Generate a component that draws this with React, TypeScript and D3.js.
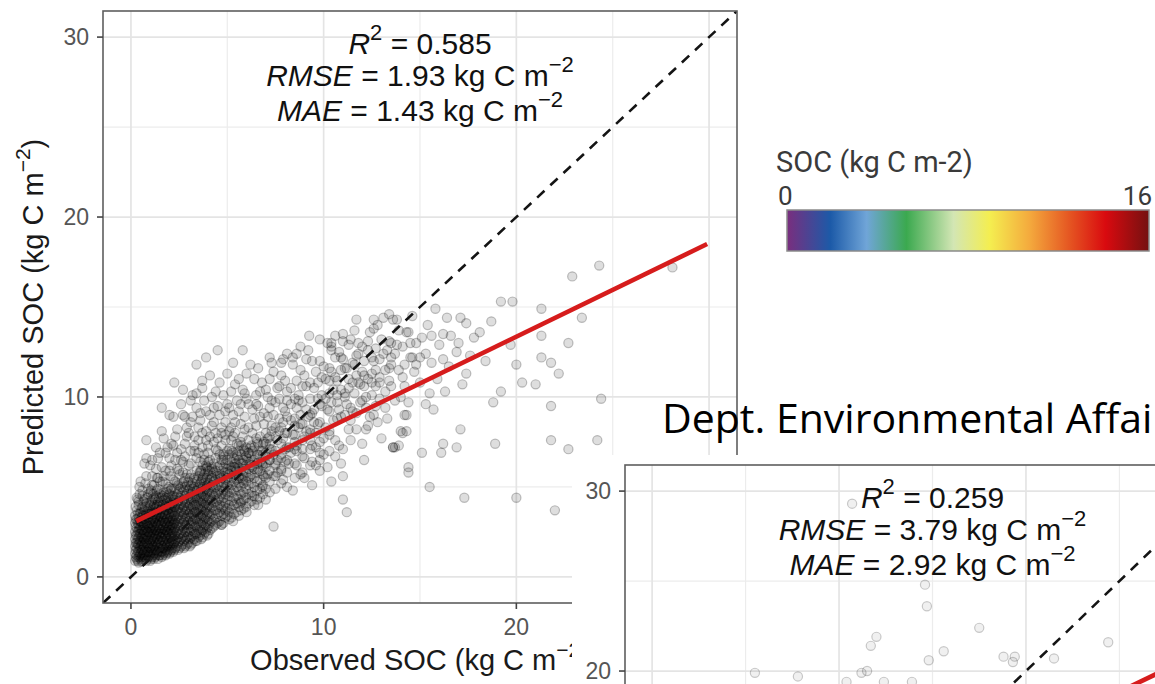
import React from 'react';
import * as d3 from 'd3';

// ---------- data ----------
const axisDomain: [number, number] = [-1.45, 31.45];
const majorTicks = [0, 10, 20, 30];
const minorTicks = [5, 15, 25];

const panel1Stats = ['0.585', '1.93', '1.43'];
const panel2Stats = ['0.259', '3.79', '2.92'];

// fitted regression line end points [observed, predicted]
const panel1Fit: [number, number][] = [[0.28, 3.1], [29.9, 18.5]];
const panel2Fit: [number, number][] = [[0.3, 6.5], [30.5, 21.6]];

// dense core of the main panel: [observed, predicted values at that observed]
const coreColumns: [number, number[]][] = [
  [0.22, [0.9, 1.3, 1.7, 2.1, 2.5, 3.0, 3.4]],
  [0.3, [1.0, 1.2, 1.6, 1.9, 2.3, 2.7, 3.2, 3.7]],
  [0.4, [0.8, 1.1, 1.4, 1.8, 2.2, 2.6, 2.9, 3.3, 4.0]],
  [0.5, [1.0, 1.3, 1.7, 2.0, 2.4, 2.8, 3.1, 3.6]],
  [0.6, [0.9, 1.2, 1.5, 1.9, 2.3, 2.6, 3.0, 3.4, 3.9, 4.5]],
  [0.7, [1.1, 1.4, 1.8, 2.1, 2.5, 2.9, 3.2, 3.7]],
  [0.8, [0.9, 1.2, 1.6, 2.0, 2.3, 2.7, 3.1, 3.5, 4.1]],
  [0.9, [1.1, 1.4, 1.7, 2.1, 2.5, 2.8, 3.3, 3.8, 4.6]],
  [1.0, [0.9, 1.3, 1.6, 2.0, 2.4, 2.7, 3.0, 3.5, 4.0]],
  [1.1, [1.1, 1.5, 1.8, 2.2, 2.6, 2.9, 3.3, 3.7, 4.3, 5.1]],
  [1.2, [1.0, 1.3, 1.7, 2.1, 2.4, 2.8, 3.2, 3.6, 4.0]],
  [1.3, [1.2, 1.5, 1.9, 2.3, 2.6, 3.0, 3.4, 3.9, 4.5]],
  [1.4, [1.0, 1.4, 1.8, 2.1, 2.5, 2.9, 3.3, 3.7, 4.2, 4.9]],
  [1.5, [1.2, 1.6, 2.0, 2.4, 2.7, 3.1, 3.5, 4.0]],
  [1.6, [1.1, 1.4, 1.7, 2.2, 2.6, 3.0, 3.3, 3.8, 4.4]],
  [1.7, [1.3, 1.6, 2.0, 2.4, 2.8, 3.2, 3.6, 4.1, 4.7]],
  [1.8, [1.2, 1.5, 1.9, 2.3, 2.6, 3.0, 3.5, 3.9, 4.4, 5.2]],
  [1.9, [1.4, 1.8, 2.1, 2.5, 2.9, 3.3, 3.7, 4.2]],
  [2.0, [1.3, 1.7, 2.0, 2.4, 2.8, 3.1, 3.5, 4.0, 4.6]],
  [2.1, [1.5, 1.9, 2.2, 2.6, 3.0, 3.4, 3.8, 4.3, 4.9]],
  [2.2, [1.4, 1.8, 2.1, 2.5, 2.9, 3.2, 3.6, 4.1, 4.5, 5.4]],
  [2.3, [1.6, 2.0, 2.3, 2.7, 3.1, 3.5, 3.9, 4.4]],
  [2.45, [1.5, 1.9, 2.2, 2.6, 3.0, 3.4, 3.8, 4.2, 4.7, 5.1]],
  [2.6, [1.7, 2.1, 2.4, 2.8, 3.2, 3.6, 4.0, 4.5, 5.0]],
  [2.75, [1.6, 2.0, 2.3, 2.7, 3.1, 3.5, 3.9, 4.3, 4.8, 5.3]],
  [2.9, [1.8, 2.2, 2.5, 2.9, 3.3, 3.7, 4.1, 4.6, 5.1]],
  [3.05, [1.7, 2.1, 2.5, 2.9, 3.3, 3.6, 4.0, 4.4, 4.9, 5.5]],
  [3.2, [1.9, 2.3, 2.7, 3.1, 3.5, 3.9, 4.3, 4.7, 5.2]],
  [3.35, [2.0, 2.4, 2.8, 3.2, 3.6, 4.0, 4.4, 4.8, 5.4]],
  [3.5, [2.2, 2.6, 3.0, 3.4, 3.8, 4.2, 4.6, 5.0, 5.6]],
  [3.65, [2.1, 2.5, 2.9, 3.3, 3.7, 4.1, 4.5, 4.9, 5.3, 5.9]],
  [3.8, [2.4, 2.8, 3.2, 3.6, 4.0, 4.4, 4.8, 5.2, 5.7]],
  [3.95, [2.3, 2.7, 3.1, 3.5, 3.9, 4.3, 4.7, 5.1, 5.5, 6.1]],
  [4.1, [2.6, 3.0, 3.4, 3.8, 4.2, 4.6, 5.0, 5.4, 5.9]],
  [4.3, [2.8, 3.2, 3.7, 4.1, 4.5, 4.9, 5.3, 5.8, 6.3]],
  [4.5, [3.0, 3.5, 3.9, 4.3, 4.7, 5.1, 5.6, 6.1]],
  [4.7, [2.9, 3.4, 3.8, 4.2, 4.6, 5.0, 5.5, 5.9, 6.5]],
  [4.9, [3.3, 3.7, 4.1, 4.6, 5.0, 5.4, 5.8, 6.3]],
  [5.1, [3.2, 3.6, 4.0, 4.5, 4.9, 5.3, 5.7, 6.2, 6.8]],
  [5.35, [3.5, 4.0, 4.4, 4.8, 5.3, 5.7, 6.1, 6.6]],
  [5.6, [3.4, 3.9, 4.3, 4.8, 5.2, 5.6, 6.1, 6.5, 7.0]],
  [5.85, [3.8, 4.3, 4.7, 5.2, 5.6, 6.0, 6.5, 7.1]],
  [6.1, [4.1, 4.6, 5.1, 5.5, 6.0, 6.4, 6.9]],
  [6.4, [4.0, 4.5, 5.0, 5.5, 6.0, 6.5, 7.2]],
  [6.7, [4.4, 4.9, 5.4, 5.9, 6.4, 7.0]],
  [7.0, [4.3, 4.9, 5.5, 6.1, 6.7, 7.4]],
  [7.5, [4.9, 5.6, 6.3, 7.0, 7.8]],
  [7.8, [5.2, 5.9, 6.6, 7.4, 8.3]],
  [8.1, [5.0, 5.8, 6.5, 7.2, 8.0]],
  [8.5, [5.5, 6.3, 7.1, 7.9, 8.8]],
  [8.9, [5.8, 6.7, 7.6, 8.5]],
  [9.3, [6.2, 7.1, 8.0, 9.0]],
  [9.8, [6.5, 7.5, 8.6, 9.6]],
  [10.3, [7.0, 8.1, 9.2]],
];

// second layer of the dense core, read between the first layer's columns
const coreColumnsB: [number, number[]][] = [
  [0.25, [1.1, 1.5, 1.9, 2.3, 2.8, 3.2, 3.9]],
  [0.35, [0.9, 1.4, 1.8, 2.1, 2.5, 3.0, 3.5, 4.3]],
  [0.45, [1.2, 1.6, 2.0, 2.4, 2.7, 3.1, 3.5, 4.6]],
  [0.55, [0.85, 1.1, 1.5, 1.8, 2.2, 2.6, 3.0, 3.3, 3.8]],
  [0.65, [1.0, 1.3, 1.7, 2.1, 2.4, 2.8, 3.2, 3.6, 4.2]],
  [0.75, [1.2, 1.5, 1.9, 2.2, 2.6, 3.0, 3.4, 3.9, 5.2]],
  [0.85, [1.0, 1.4, 1.8, 2.2, 2.5, 2.9, 3.3, 3.7, 4.4]],
  [0.95, [1.2, 1.6, 1.9, 2.3, 2.7, 3.0, 3.5, 4.1]],
  [1.05, [1.0, 1.4, 1.7, 2.1, 2.5, 2.8, 3.2, 3.6, 4.2, 4.8]],
  [1.15, [1.2, 1.6, 2.0, 2.3, 2.7, 3.1, 3.5, 3.9, 4.6]],
  [1.25, [1.1, 1.5, 1.8, 2.2, 2.6, 3.0, 3.3, 3.8, 4.3]],
  [1.35, [1.3, 1.7, 2.1, 2.4, 2.8, 3.2, 3.6, 4.0, 4.8, 5.5]],
  [1.45, [1.2, 1.6, 1.9, 2.3, 2.7, 3.1, 3.4, 3.9, 4.4]],
  [1.55, [1.4, 1.8, 2.2, 2.5, 2.9, 3.3, 3.7, 4.2, 4.7]],
  [1.65, [1.2, 1.6, 2.0, 2.4, 2.7, 3.1, 3.5, 4.0, 4.5, 5.3]],
  [1.75, [1.4, 1.8, 2.2, 2.6, 3.0, 3.4, 3.8, 4.3]],
  [1.85, [1.3, 1.7, 2.1, 2.5, 2.8, 3.2, 3.7, 4.1, 4.7]],
  [1.95, [1.5, 1.9, 2.3, 2.7, 3.1, 3.5, 3.9, 4.4, 5.0]],
  [2.05, [1.4, 1.8, 2.2, 2.6, 2.9, 3.3, 3.8, 4.2, 4.8, 5.6]],
  [2.15, [1.6, 2.0, 2.4, 2.8, 3.2, 3.6, 4.0, 4.5]],
  [2.25, [1.5, 1.9, 2.3, 2.7, 3.0, 3.4, 3.9, 4.3, 4.9]],
  [2.38, [1.7, 2.1, 2.5, 2.9, 3.3, 3.7, 4.1, 4.6, 5.2]],
  [2.52, [1.6, 2.0, 2.4, 2.8, 3.2, 3.6, 4.0, 4.4, 4.9, 5.7]],
  [2.68, [1.8, 2.2, 2.6, 3.0, 3.4, 3.8, 4.2, 4.7, 5.2]],
  [2.82, [1.7, 2.1, 2.5, 2.9, 3.3, 3.7, 4.1, 4.5, 5.0, 5.5]],
  [2.98, [1.9, 2.3, 2.7, 3.1, 3.5, 3.9, 4.3, 4.8, 5.3]],
  [3.12, [1.8, 2.2, 2.6, 3.0, 3.4, 3.8, 4.2, 4.6, 5.1, 5.7]],
  [3.28, [2.1, 2.5, 2.9, 3.3, 3.7, 4.1, 4.5, 5.0, 5.5]],
  [3.42, [2.0, 2.4, 2.8, 3.2, 3.6, 4.0, 4.4, 4.8, 5.3, 5.9]],
  [3.58, [2.3, 2.7, 3.1, 3.5, 3.9, 4.3, 4.7, 5.2, 5.8]],
  [3.72, [2.2, 2.6, 3.0, 3.4, 3.8, 4.2, 4.6, 5.0, 5.5, 6.2]],
  [3.88, [2.5, 2.9, 3.3, 3.7, 4.1, 4.5, 4.9, 5.4, 6.0]],
  [4.02, [2.4, 2.8, 3.2, 3.6, 4.0, 4.4, 4.8, 5.2, 5.7, 6.4]],
  [4.2, [2.7, 3.1, 3.5, 3.9, 4.3, 4.7, 5.1, 5.6, 6.1]],
  [4.4, [2.9, 3.3, 3.7, 4.2, 4.6, 5.0, 5.4, 5.9, 6.6]],
  [4.6, [3.1, 3.6, 4.0, 4.4, 4.8, 5.3, 5.7, 6.2]],
  [4.8, [3.0, 3.5, 3.9, 4.4, 4.8, 5.2, 5.6, 6.1, 6.7]],
  [5.0, [3.4, 3.8, 4.3, 4.7, 5.1, 5.5, 6.0, 6.5]],
  [5.22, [3.3, 3.8, 4.2, 4.7, 5.1, 5.5, 5.9, 6.4, 7.0]],
  [5.48, [3.6, 4.1, 4.5, 5.0, 5.4, 5.9, 6.3, 6.8]],
  [5.72, [3.7, 4.2, 4.6, 5.0, 5.5, 5.9, 6.3, 6.8, 7.3]],
  [5.98, [3.9, 4.4, 4.9, 5.3, 5.8, 6.2, 6.7, 7.2]],
  [6.25, [4.2, 4.7, 5.2, 5.7, 6.2, 6.7, 7.3]],
  [6.55, [4.3, 4.8, 5.3, 5.8, 6.3, 6.8, 7.5]],
  [6.85, [4.6, 5.1, 5.7, 6.2, 6.8, 7.4]],
  [7.2, [4.7, 5.3, 5.9, 6.5, 7.1, 7.8]],
];

// medium-density cloud of the main panel [observed, predicted]
const cloudSamples: [number, number][] = [
  [0.6, 4.8], [0.8, 5.6], [1.0, 6.2], [1.2, 5.1], [1.4, 6.6], [0.9, 4.9], [1.3, 7.2], [0.5, 5.3],
  [1.6, 6.1], [1.8, 6.9], [2.1, 7.4], [2.3, 6.5], [1.7, 7.7], [2.4, 8.2], [2.0, 5.9], [2.6, 7.1], [1.5, 5.3], [2.2, 8.9],
  [2.7, 6.4], [2.9, 7.8], [3.1, 8.6], [3.3, 7.0], [2.8, 8.9], [3.4, 9.4], [3.0, 6.2], [3.2, 10.1], [2.6, 9.6], [3.5, 7.6], [3.4, 6.6],
  [3.7, 7.2], [3.9, 8.1], [4.1, 9.0], [4.3, 7.5], [3.8, 9.8], [4.4, 10.3], [4.0, 6.9], [4.2, 8.4], [3.6, 8.7], [4.5, 9.5], [4.1, 11.2], [3.7, 10.5],
  [4.7, 7.3], [4.9, 8.6], [5.1, 9.4], [5.3, 7.8], [4.8, 10.1], [5.4, 10.7], [5.0, 7.0], [5.2, 8.3], [4.6, 9.0], [5.5, 9.8], [5.0, 11.3], [4.7, 2.9], [5.3, 3.1],
  [5.7, 7.5], [5.9, 8.9], [6.1, 9.6], [6.3, 8.0], [5.8, 10.4], [6.4, 11.0], [6.0, 6.6], [6.2, 7.2], [5.6, 9.2], [6.5, 10.1], [6.2, 11.8], [5.7, 4.1], [6.3, 4.5], [6.0, 3.6],
  [6.7, 7.8], [6.9, 9.1], [7.1, 10.0], [7.3, 8.4], [6.8, 10.8], [7.4, 11.4], [7.0, 6.9], [7.2, 7.4], [6.6, 9.5], [7.5, 9.7], [7.2, 12.2], [6.8, 5.0], [7.1, 5.7], [6.6, 4.0],
  [7.7, 8.1], [7.9, 9.4], [8.1, 10.3], [8.3, 8.7], [7.8, 11.2], [8.4, 11.8], [8.0, 7.1], [8.2, 6.3], [7.6, 10.5], [8.5, 9.9], [8.1, 12.4], [7.9, 5.4], [8.4, 4.8],
  [8.7, 8.3], [8.9, 9.7], [9.1, 10.6], [9.3, 7.6], [8.8, 11.5], [9.4, 12.0], [9.0, 6.6], [9.2, 8.9], [8.6, 10.9], [9.5, 9.3], [8.8, 5.7], [9.4, 5.1], [8.6, 7.3],
  [9.7, 8.5], [9.9, 10.1], [10.1, 11.0], [10.3, 7.9], [9.8, 12.0], [10.4, 12.6], [10.0, 6.8], [10.2, 9.3], [9.6, 11.4], [10.5, 10.4], [10.2, 13.0], [9.8, 5.9],
  [10.7, 8.8], [10.9, 10.4], [11.1, 11.6], [11.3, 8.2], [10.8, 12.5], [11.4, 13.2], [11.0, 7.1], [11.2, 9.6], [10.6, 11.1], [11.5, 10.8], [10.9, 6.3],
  [11.7, 9.1], [11.9, 10.7], [12.1, 12.0], [12.3, 8.4], [11.8, 13.0], [12.4, 13.6], [12.0, 7.4], [12.2, 10.0], [11.6, 11.8], [12.5, 11.3], [12.1, 6.5],
  [12.7, 9.5], [12.9, 11.1], [13.1, 12.4], [13.3, 8.8], [12.8, 14.0], [13.4, 13.1], [13.0, 7.7], [13.2, 10.3], [12.6, 12.0], [13.5, 11.8],
  [13.7, 9.8], [13.9, 11.5], [14.1, 12.8], [14.3, 9.0], [13.8, 14.3], [14.4, 13.6], [14.0, 8.1], [14.2, 10.6], [13.6, 7.2], [14.5, 12.2],
  [6.3, 6.1], [6.8, 7.0], [7.2, 6.5], [7.6, 7.6], [8.0, 8.0], [8.5, 7.5], [6.5, 8.4], [7.0, 8.0], [7.8, 6.8], [8.3, 6.9],
  [9.0, 7.8], [6.1, 6.9], [5.5, 6.7], [5.8, 7.8], [6.6, 6.0], [7.3, 7.1], [7.7, 8.8], [8.8, 8.5], [9.6, 7.2], [9.3, 8.2],
  [5.2, 6.1], [4.8, 6.5], [5.6, 5.5], [6.9, 5.6], [7.5, 6.2], [4.4, 7.1], [4.9, 7.6], [5.4, 8.0], [3.8, 6.8], [4.2, 6.0],
  [10.6, 12.2], [10.9, 11.5], [11.3, 12.9], [11.6, 10.2], [12.0, 11.4], [12.3, 12.6], [12.7, 10.6], [13.0, 13.2], [12.2, 9.4], [11.1, 10.0],
  [11.8, 12.4], [12.6, 13.8], [10.8, 9.3], [13.2, 11.5], [12.9, 9.9], [11.4, 8.7], [10.3, 10.9], [12.4, 8.9], [13.7, 12.4], [14.0, 10.0],
];

// further grey points of the cloud [observed, predicted]
const cloudSamplesB: [number, number][] = [
  [1.1, 5.6], [1.3, 6.0], [1.5, 6.9], [1.8, 5.9], [2.0, 6.6], [2.2, 7.3], [2.4, 6.0], [2.6, 6.5], [2.8, 7.4], [1.4, 5.5],
  [1.9, 7.2], [2.3, 7.8], [2.9, 8.3], [1.6, 8.1], [2.7, 9.0],
  [3.1, 7.0], [3.3, 7.8], [3.5, 6.9], [3.7, 8.0], [3.9, 9.2], [4.1, 7.8], [4.3, 8.6], [4.5, 7.0], [4.7, 8.0], [4.9, 9.2],
  [3.2, 8.9], [3.8, 6.5], [4.2, 10.0], [4.6, 10.8], [3.4, 10.2], [4.8, 6.8], [3.6, 5.9], [4.0, 5.9],
  [5.1, 8.1], [5.3, 9.0], [5.5, 7.4], [5.7, 9.6], [5.9, 10.2], [6.1, 8.3], [6.3, 9.3], [6.5, 7.7], [6.7, 10.3], [6.9, 7.5],
  [5.2, 10.3], [5.6, 11.0], [6.0, 11.3], [6.6, 11.6], [5.4, 6.1], [6.2, 6.4], [6.8, 6.3], [5.8, 6.3],
  [7.1, 8.9], [7.3, 9.8], [7.5, 8.3], [7.7, 10.6], [7.9, 8.6], [8.1, 9.8], [8.3, 10.5], [8.5, 8.4], [8.7, 9.8], [8.9, 10.6],
  [7.2, 11.0], [7.8, 11.9], [8.4, 12.2], [8.8, 12.8], [7.4, 6.8], [8.0, 6.4], [8.6, 7.0], [7.6, 5.8],
  [9.1, 9.3], [9.3, 10.8], [9.5, 8.6], [9.7, 9.9], [9.9, 11.1], [10.1, 9.9], [10.3, 11.6], [10.5, 8.7], [10.7, 10.1], [10.9, 12.2],
  [9.2, 12.6], [9.8, 13.2], [10.6, 13.4], [9.4, 7.3], [10.0, 7.7], [10.8, 7.3], [9.6, 6.2],
  [11.1, 9.0], [11.3, 10.5], [11.5, 11.9], [11.7, 11.2], [11.9, 9.7], [12.1, 11.2], [12.3, 13.1], [12.5, 10.1], [12.7, 12.7], [12.9, 12.1],
  [11.4, 7.6], [12.2, 8.2], [12.8, 8.6], [11.6, 13.7], [12.6, 14.3],
  [13.2, 9.4], [13.5, 10.6], [13.8, 12.9], [14.1, 11.1], [14.4, 9.7], [14.7, 11.4], [15.0, 12.2], [15.3, 9.6], [15.6, 13.4], [15.9, 11.0],
  [13.4, 14.6], [14.6, 14.5], [16.2, 12.1],
];

// inner, darker part of the cloud [observed, predicted]
const midCloudSamples: [number, number][] = [
  [2.5, 5.9], [2.8, 6.7], [3.1, 6.3], [3.3, 7.3], [3.6, 6.4], [3.9, 7.6], [4.1, 6.5], [4.4, 8.0], [4.6, 6.8], [4.9, 7.9],
  [5.1, 7.1], [5.4, 8.6], [5.6, 7.3], [5.9, 8.2], [6.1, 7.6], [6.4, 8.8], [6.6, 7.4], [6.9, 8.5], [7.1, 7.7], [7.4, 9.0],
  [7.6, 6.5], [7.9, 7.7], [8.1, 8.9], [8.4, 7.9], [8.6, 9.4], [8.9, 7.1], [9.1, 8.1], [9.4, 9.1], [9.6, 8.0], [9.9, 9.5],
  [10.1, 8.3], [10.4, 9.7], [10.6, 7.6], [10.9, 8.9], [11.1, 10.2], [11.4, 9.4], [11.7, 8.2], [12.0, 9.8], [12.3, 11.0], [12.6, 9.0],
  [3.0, 8.0], [3.6, 9.1], [4.0, 7.3], [4.3, 9.4], [4.7, 8.3], [5.0, 9.6], [5.3, 6.9], [5.7, 8.5], [6.0, 9.9], [6.3, 7.0],
  [6.7, 8.9], [7.0, 10.4], [7.3, 8.1], [7.7, 9.9], [8.0, 10.9], [8.3, 9.6], [8.7, 10.1], [9.0, 11.2], [9.3, 9.9], [9.7, 10.8],
  [10.0, 11.7], [10.3, 10.2], [10.7, 10.9], [11.0, 12.1], [11.3, 11.0], [11.7, 12.3], [12.1, 10.6], [12.5, 12.2], [12.9, 10.8], [13.3, 12.6],
  [3.2, 4.9], [3.7, 5.4], [4.2, 5.5], [4.6, 5.6], [5.0, 5.8], [5.4, 6.3], [5.8, 5.4], [6.2, 5.6], [6.6, 6.8], [7.0, 6.3],
  [7.4, 5.6], [7.8, 6.0], [8.2, 7.2], [8.6, 6.2], [9.0, 5.5], [9.4, 6.4], [9.8, 6.9], [10.2, 6.1], [10.6, 6.7], [11.0, 5.6],
  [2.4, 6.9], [2.9, 5.7], [3.5, 8.3], [3.9, 6.2], [4.5, 7.7], [5.2, 7.6], [5.9, 7.0], [6.5, 9.6], [7.2, 9.4], [8.0, 9.2],
  [8.8, 9.0], [9.5, 10.5], [10.4, 11.4], [11.2, 11.6], [12.0, 12.8], [12.7, 11.5], [13.5, 13.0], [14.2, 11.8], [14.8, 13.0], [15.3, 12.4],
  [15.0, 10.8], [15.6, 11.9], [16.0, 12.9], [16.5, 11.7], [16.9, 12.5], [15.4, 14.0], [16.2, 13.5], [17.0, 13.0], [17.6, 12.3], [18.1, 13.6],
  [1.2, 4.4], [1.5, 4.6], [1.9, 4.9], [2.3, 5.3], [2.7, 5.8], [0.7, 4.3], [1.0, 4.7], [0.4, 4.2], [1.7, 5.6], [2.1, 6.2],
];

// sparse points of the main panel [observed, predicted]
const outlierSamples: [number, number][] = [
  [0.8, 6.6], [0.7, 6.3], [1.1, 6.5], [0.44, 5.0], [0.3, 4.4], [0.8, 7.6], [1.6, 9.4], [2.0, 9.0], [2.25, 10.8], [2.7, 10.4],
  [3.1, 9.8], [3.4, 11.8], [3.9, 12.2], [3.7, 10.9], [4.5, 12.6], [5.8, 12.6], [5.3, 11.9], [7.3, 11.9], [7.9, 12.1], [8.6, 12.4],
  [9.1, 12.1], [9.25, 13.4], [10.4, 13.0], [11.0, 13.5],
  [24.3, 17.3], [22.9, 16.7], [28.1, 17.2], [19.2, 15.3], [19.8, 15.3], [21.3, 14.9], [23.4, 14.4], [22.7, 13.0], [18.7, 14.2],
  [21.3, 13.4], [24.4, 9.9], [21.8, 9.5], [21.8, 7.6], [24.2, 7.6], [22.7, 7.1], [21.3, 12.2], [21.8, 11.9], [22.2, 11.3],
  [20.0, 11.8], [20.3, 10.8], [21.0, 10.7], [19.2, 10.3], [18.8, 9.7], [18.9, 7.4], [17.1, 8.2], [16.9, 7.2], [16.2, 7.4],
  [15.1, 6.9], [15.7, 9.3], [14.4, 6.1], [17.8, 13.3], [16.4, 14.4], [17.1, 14.4], [17.4, 14.1], [15.8, 14.9], [16.6, 13.4],
  [18.4, 12.0], [19.7, 12.9], [16.3, 10.3], [17.2, 10.7], [17.4, 11.3], [15.5, 10.2], [14.2, 9.0], [14.3, 8.1], [13.9, 7.3],
  [13.6, 7.2], [13.5, 12.2], [13.4, 11.6], [14.6, 12.2], [14.8, 11.8], [14.5, 13.0], [13.1, 14.4], [13.6, 14.3], [11.7, 14.3],
  [14.3, 13.6], [13.9, 13.7], [15.1, 13.3], [13.4, 10.9], [11.8, 10.8], [12.5, 10.8], [11.5, 9.2], [10.7, 9.7], [11.0, 13.1],
  [10.4, 12.8], [22.0, 3.7], [20.0, 4.4], [17.3, 4.4], [15.5, 5.0], [14.4, 5.8], [16.1, 6.9], [14.1, 8.0], [13.7, 7.2],
  [11.2, 3.6], [11.0, 4.3], [10.4, 5.3], [7.4, 2.8],
];

// visible points of the second (overlaid) panel [observed, predicted]
const panel2Samples: [number, number][] = [
  [14.6, 24.8], [14.7, 23.6], [17.5, 22.4], [15.6, 21.1], [14.8, 20.6], [18.8, 20.8], [19.4, 20.8], [19.3, 20.5],
  [21.5, 20.7], [24.4, 21.6], [13.9, 19.4], [10.7, 29.3], [12.0, 21.9], [11.7, 21.4], [5.5, 19.9], [7.8, 19.7],
  [11.2, 19.9], [11.5, 20.0], [10.4, 19.4], [12.4, 19.4],
];

const colorbarRange = [0, 16];
const colorbarTitle = 'SOC (kg C m-2)';
const colorbarStops: [number, string][] = [
  [0, '#7a2e7e'], [0.12, '#1c5aa8'], [0.22, '#70a5d8'], [0.33, '#3ba94f'], [0.46, '#d3e6b4'],
  [0.56, '#f4ee50'], [0.67, '#f4aa3d'], [0.78, '#e55622'], [0.88, '#d90a0f'], [1, '#741111'],
];
const overlayTitle = 'Dept. Environmental Affairs';

// ---------- drawing ----------
const FONT = "'Liberation Sans', Arial, Helvetica, sans-serif";

type PanelProps = {
  left: number; top: number; width: number; height: number;
  points: [number, number][]; fit: [number, number][]; stats: string[];
  clipId: string; fill: string; stroke: string;
};

function Panel({ left, top, width, height, points, fit, stats, clipId, fill, stroke }: PanelProps) {
  const x = d3.scaleLinear().domain(axisDomain).range([left, left + width]);
  const y = d3.scaleLinear().domain(axisDomain).range([top + height, top]);
  const line = d3.line<[number, number]>().x(d => x(d[0])).y(d => y(d[1]));
  const cx = left + width / 2;
  const bottom = top + height;
  const gridMinor = '#ececec';
  const gridMajor = '#e4e4e4';
  return (
    <g>
      <defs>
        <clipPath id={clipId}>
          <rect x={left} y={top} width={width} height={height} />
        </clipPath>
      </defs>
      <rect x={left} y={top} width={width} height={height} fill="#fff" />
      <g clipPath={`url(#${clipId})`}>
        {minorTicks.map(v => (
          <g key={'mi' + v}>
            <line x1={x(v)} x2={x(v)} y1={top} y2={bottom} stroke={gridMinor} strokeWidth={1.2} />
            <line x1={left} x2={left + width} y1={y(v)} y2={y(v)} stroke={gridMinor} strokeWidth={1.2} />
          </g>
        ))}
        {majorTicks.map(v => (
          <g key={'ma' + v}>
            <line x1={x(v)} x2={x(v)} y1={top} y2={bottom} stroke={gridMajor} strokeWidth={1.7} />
            <line x1={left} x2={left + width} y1={y(v)} y2={y(v)} stroke={gridMajor} strokeWidth={1.7} />
          </g>
        ))}
        {points.map((p, i) => (
          <circle key={i} cx={x(p[0])} cy={y(p[1])} r={4.6} fill={fill} stroke={stroke} strokeWidth={1.2} />
        ))}
        <path d={line([[axisDomain[0], axisDomain[0]], [axisDomain[1], axisDomain[1]]]) || ''}
          stroke="#141414" strokeWidth={2.6} strokeDasharray="10 8" fill="none" />
        <path d={line(fit) || ''} stroke="#d61c1c" strokeWidth={4.6} fill="none" />
      </g>
      <rect x={left} y={top} width={width} height={height} fill="none" stroke="#5e5e5e" strokeWidth={1.6} />
      {majorTicks.map(v => (
        <g key={'yt' + v}>
          <line x1={left - 6} x2={left} y1={y(v)} y2={y(v)} stroke="#444" strokeWidth={1.6} />
          <text x={left - 14} y={y(v)} dy="0.36em" textAnchor="end" fontFamily={FONT} fontSize={23} fill="#555">{v}</text>
        </g>
      ))}
      {majorTicks.map(v => (
        <g key={'xt' + v}>
          <line x1={x(v)} x2={x(v)} y1={bottom} y2={bottom + 6} stroke="#444" strokeWidth={1.6} />
          <text x={x(v)} y={bottom + 32} textAnchor="middle" fontFamily={FONT} fontSize={23} fill="#555">{v}</text>
        </g>
      ))}
      <g fontFamily={FONT} fontSize={30} fill="#111" textAnchor="middle" style={{ whiteSpace: 'pre' }}>
        <text x={cx} y={top + 43}>
          <tspan fontStyle="italic">R</tspan>
          <tspan fontSize={22} dy={-14}>2</tspan>
          <tspan dy={14}>{' = ' + stats[0]}</tspan>
        </text>
        <text x={cx} y={top + 75}>
          <tspan fontStyle="italic">RMSE</tspan>
          <tspan>{' = ' + stats[1] + ' kg C m'}</tspan>
          <tspan fontSize={22} dy={-14}>−2</tspan>
        </text>
        <text x={cx} y={top + 110}>
          <tspan fontStyle="italic">MAE</tspan>
          <tspan>{' = ' + stats[2] + ' kg C m'}</tspan>
          <tspan fontSize={22} dy={-14}>−2</tspan>
        </text>
      </g>
    </g>
  );
}

export default function App() {
  const W = 1155, H = 684;
  const mainPoints: [number, number][] = [
    ...coreColumns.flatMap(([o, ps]) => ps.map(p => [o, p] as [number, number])),
    ...coreColumnsB.flatMap(([o, ps]) => ps.map(p => [o, p] as [number, number])),
    ...midCloudSamples,
    ...cloudSamples,
    ...cloudSamplesB,
    ...outlierSamples,
  ];
  const barX = 787, barY = 210, barW = 362, barH = 41;
  const barScale = d3.scaleLinear().domain(colorbarRange).range([barX, barX + barW]);

  return (
    <svg width={W} height={H} viewBox={`0 0 ${W} ${H}`}
      style={{ position: 'fixed', left: 0, top: 0, display: 'block', background: '#fff' }}>
      <rect x={0} y={0} width={W} height={H} fill="#fff" />
      <Panel left={103} top={11} width={634} height={592} points={mainPoints} fit={panel1Fit}
        stats={panel1Stats} clipId="clipMain" fill="rgba(0,0,0,0.13)" stroke="rgba(0,0,0,0.24)" />
      {/* axis titles */}
      <text x={420} y={670} textAnchor="middle" fontFamily={FONT} fontSize={29} fill="#1a1a1a" style={{ whiteSpace: 'pre' }}>
        <tspan>Observed SOC (kg C m</tspan>
        <tspan fontSize={21} dy={-13}>−2</tspan>
        <tspan dy={13}>)</tspan>
      </text>
      <text transform="translate(43,307) rotate(-90)" textAnchor="middle" fontFamily={FONT} fontSize={29} fill="#1a1a1a" style={{ whiteSpace: 'pre' }}>
        <tspan>Predicted SOC (kg C m</tspan>
        <tspan fontSize={21} dy={-13}>−2</tspan>
        <tspan dy={13}>)</tspan>
      </text>

      {/* colour bar legend */}
      <defs>
        <linearGradient id="socGrad" x1="0" x2="1" y1="0" y2="0">
          {colorbarStops.map(([o, c]) => <stop key={o} offset={o} stopColor={c} />)}
        </linearGradient>
      </defs>
      <text x={776} y={172} fontFamily="Roboto, sans-serif" fontSize={29} fill="#3a3a3a">{colorbarTitle}</text>
      <text x={barScale(colorbarRange[0]) - 9} y={205} fontFamily="Roboto, sans-serif" fontSize={26} fill="#3a3a3a">{colorbarRange[0]}</text>
      <text x={barScale(colorbarRange[1]) + 3} y={205} textAnchor="end" fontFamily="Roboto, sans-serif" fontSize={26} fill="#3a3a3a">{colorbarRange[1]}</text>
      <rect x={barX} y={barY} width={barW} height={barH} fill="url(#socGrad)" stroke="#8a8a8a" strokeWidth={1.5} />

      {/* overlaid slide title */}
      <text x={662} y={433} fontFamily="'Open Sans', 'Noto Sans', sans-serif" fontSize={41} fill="#000">{overlayTitle}</text>

      {/* overlaid second figure */}
      <rect x={572} y={455} width={W - 572} height={H - 455} fill="#fff" />
      <Panel left={625} top={465} width={615} height={592} points={panel2Samples} fit={panel2Fit}
        stats={panel2Stats} clipId="clipSecond" fill="rgba(0,0,0,0.06)" stroke="rgba(0,0,0,0.2)" />
    </svg>
  );
}
